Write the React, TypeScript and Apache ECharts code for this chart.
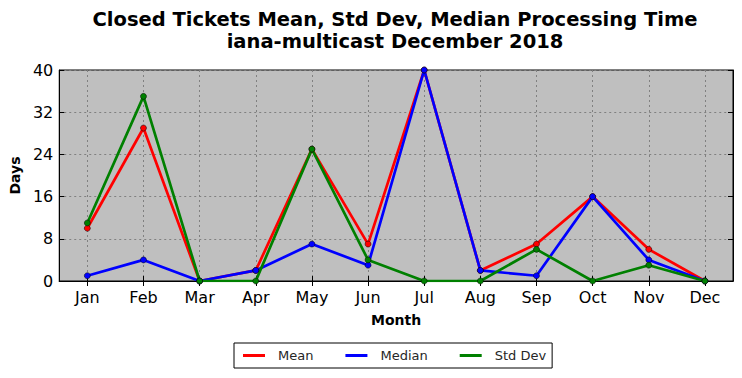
import React, { useEffect, useRef } from "react";
import * as echarts from "echarts";

const months = ["Jan", "Feb", "Mar", "Apr", "May", "Jun", "Jul", "Aug", "Sep", "Oct", "Nov", "Dec"];
const meanValues = [10, 29, 0, 2, 25, 7, 40, 2, 7, 16, 6, 0];
const medianValues = [1, 4, 0, 2, 7, 3, 40, 2, 1, 16, 4, 0];
const stdDevValues = [11, 35, 0, 0, 25, 4, 0, 0, 6, 0, 3, 0];
const titleLines = ["Closed Tickets Mean, Std Dev, Median Processing Time", "iana-multicast December 2018"];

const FONT = "DejaVu Sans";

export default function App() {
  const ref = useRef<HTMLDivElement>(null);
  useEffect(() => {
    if (!ref.current) return;
    const chart = echarts.init(ref.current, undefined, { renderer: "svg" });
    const mkSeries = (name: string, data: number[], color: string) => ({
      name,
      type: "line",
      data,
      xAxisIndex: 0,
      yAxisIndex: 0,
      symbol: "circle",
      symbolSize: 6,
      showSymbol: true,
      lineStyle: { color, width: 2.7 },
      itemStyle: { color, borderColor: "#000", borderWidth: 0.5 },
      emphasis: { disabled: true },
    });
    const tickStyle = { lineStyle: { color: "#000", width: 1 } };
    chart.setOption({
      animation: false,
      backgroundColor: "#fff",
      textStyle: { fontFamily: FONT },
      title: {
        text: titleLines.join("\n"),
        left: 390,
        textAlign: "center",
        top: 3,
        textStyle: { fontFamily: FONT, fontSize: 19.5, fontWeight: "bold", color: "#000", lineHeight: 22 },
      },
      legend: {
        left: 234,
        top: 343,
        orient: "horizontal",
        data: ["Mean", "Median", "Std Dev"],
        icon: "rect",
        itemWidth: 22,
        itemHeight: 3,
        itemGap: 32,
        padding: [6, 6, 6, 9],
        borderColor: "#000",
        borderWidth: 1,
        borderRadius: 0,
        itemStyle: { borderWidth: 0 },
        lineStyle: { width: 0 },
        textStyle: { fontFamily: FONT, fontSize: 13, color: "#262626", padding: [0, 0, 0, 8] },
      },
      grid: {
        left: 57,
        right: 9,
        top: 70,
        bottom: 97,
        show: true,
        backgroundColor: "#bfbfbf",
        borderColor: "#000",
        borderWidth: 1,
        containLabel: false,
      },
      xAxis: [
        {
          type: "category",
          data: months,
          boundaryGap: true,
          name: "Month",
          nameLocation: "middle",
          nameGap: 32,
          nameTextStyle: { fontFamily: FONT, fontSize: 14, fontWeight: "bold", color: "#000" },
          axisLine: { show: true, lineStyle: { color: "#000", width: 1 } },
          axisTick: { show: true, inside: true, alignWithLabel: true, length: 5, ...tickStyle },
          axisLabel: { fontFamily: FONT, fontSize: 16, color: "#000", margin: 8 },
          splitLine: { show: true, alignWithLabel: true, lineStyle: { color: "#808080", type: [2, 3], width: 1 } },
        },
        {
          type: "category",
          data: months,
          position: "top",
          boundaryGap: true,
          axisLine: { show: true, lineStyle: { color: "#000", width: 1 } },
          axisTick: { show: true, inside: true, alignWithLabel: true, length: 5, ...tickStyle },
          axisLabel: { show: false },
          splitLine: { show: false },
        },
      ],
      yAxis: [
        {
          type: "value",
          min: 0,
          max: 40,
          interval: 8,
          name: "Days",
          nameLocation: "middle",
          nameGap: 36,
          nameTextStyle: { fontFamily: FONT, fontSize: 14, fontWeight: "bold", color: "#000" },
          axisLine: { show: true, lineStyle: { color: "#000", width: 1 } },
          axisTick: { show: true, inside: true, length: 5, ...tickStyle },
          axisLabel: { fontFamily: FONT, fontSize: 16, color: "#000", margin: 6 },
          splitLine: { show: true, lineStyle: { color: "#808080", type: [2, 3], width: 1 } },
        },
        {
          type: "value",
          min: 0,
          max: 40,
          interval: 8,
          position: "right",
          axisLine: { show: true, lineStyle: { color: "#000", width: 1 } },
          axisTick: { show: true, inside: true, length: 5, ...tickStyle },
          axisLabel: { show: false },
          splitLine: { show: false },
        },
      ],
      series: [
        mkSeries("Mean", meanValues, "#ff0000"),
        mkSeries("Median", medianValues, "#0000ff"),
        mkSeries("Std Dev", stdDevValues, "#008000"),
      ],
    });
    return () => chart.dispose();
  }, []);
  return <div ref={ref} style={{ position: "fixed", left: 0, top: 0, width: 742, height: 378 }} />;
}
